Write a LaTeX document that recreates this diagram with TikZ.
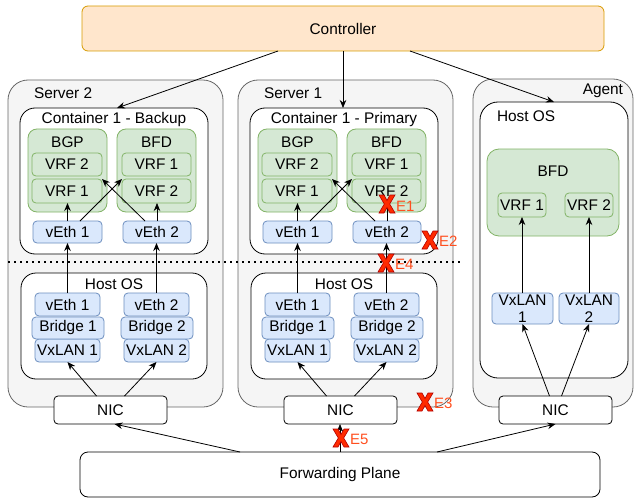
\documentclass[tikz,border=0pt]{standalone}
\usepackage{fontspec}
\setmainfont{Liberation Sans}
\usetikzlibrary{arrows.meta}

\definecolor{srvfill}{HTML}{F5F5F5}
\definecolor{srvline}{HTML}{666666}
\definecolor{grnfill}{HTML}{D5E8D4}
\definecolor{grnline}{HTML}{82B366}
\definecolor{blufill}{HTML}{DAE8FC}
\definecolor{bluline}{HTML}{6C8EBF}
\definecolor{ctlfill}{HTML}{FFE6CC}
\definecolor{ctlline}{HTML}{D79B00}
\definecolor{markfill}{HTML}{FF2A00}
\definecolor{markline}{HTML}{B20000}
\definecolor{marktext}{HTML}{FF4F1F}

\begin{document}
\begin{tikzpicture}[x=1pt,y=-1pt,
  font=\fontsize{15.4}{17}\selectfont,
  every node/.style={inner sep=0pt, outer sep=0pt},
  sz/.style 2 args={minimum width=#1pt, minimum height=#2pt},
  shell/.style={draw=srvline, fill=srvfill, rounded corners=20pt, line width=0.8pt},
  frame/.style={draw=black, fill=white, rounded corners=15pt, line width=0.8pt},
  proc/.style={draw=grnline, fill=grnfill, rounded corners=9pt, line width=0.8pt},
  vrf/.style={draw=grnline, fill=grnfill, rounded corners=4pt, line width=0.8pt},
  iface/.style={draw=bluline, fill=blufill, rounded corners=4pt, line width=0.8pt},
  nic/.style={draw=black, fill=white, rounded corners=4pt, line width=0.8pt},
  link/.style={draw, line width=0.8pt, -{Stealth[length=8pt,width=6.5pt]}},
  dotline/.style={draw, line width=1.8pt, dash pattern=on 1.8pt off 4.2pt},
  errlbl/.style={anchor=west, text=marktext, font=\fontsize{15}{16}\selectfont},
  xmark/.pic={
    \filldraw[fill=markfill, draw=markline, line width=0.6pt]
      (-8,-9) -- (-3,-9) -- (0,-3.5) -- (3,-9) -- (8,-9) -- (2.7,0) --
      (8,9) -- (3,9) -- (0,3.5) -- (-3,9) -- (-8,9) -- (-2.7,0) -- cycle;
  }]
\useasboundingbox (0,0) rectangle (634,500);

% controller and forwarding plane
\node[draw=ctlline, fill=ctlfill, rounded corners=6pt, line width=0.8pt, sz={522}{45}]
  (ctl) at (343,28.5) {Controller};
\node[nic, rounded corners=8pt, sz={520}{45}] (fp) at (340,474.5) {Forwarding Plane};

% the two servers, each with one container over its host OS
\foreach \p/\dx/\sname/\cname in {b/0/Server 2/Backup, p/230/Server 1/Primary}{
\begin{scope}[xshift=\dx pt]
  \node[shell, sz={215}{327}] (\p-srv) at (115.5,243.5) {};
  \node[anchor=west] (\p-srvlbl) at (34,93) {\sname};
  % container
  \node[frame, sz={188}{146}] (\p-cont) at (114,181) {};
  \node (\p-contlbl) at (114,120) {Container 1 - \cname};
  \node[proc, sz={79}{83}] (\p-bgp) at (67.5,170.5) {};
  \node (\p-bgplbl) at (67.5,142) {BGP};
  \node[proc, sz={79}{83}] (\p-bfd) at (156.5,170.5) {};
  \node (\p-bfdlbl) at (156.5,142) {BFD};
  \node[vrf, sz={70}{23}] (\p-bgpv2) at (67,164.5) {VRF 2};
  \node[vrf, sz={70}{24}] (\p-bgpv1) at (67,191) {VRF 1};
  \node[vrf, sz={69}{23}] (\p-bfdv1) at (156.5,164.5) {VRF 1};
  \node[vrf, sz={69}{24}] (\p-bfdv2) at (156.5,191) {VRF 2};
  \node[iface, sz={69}{22}] (\p-cveth1) at (67.5,232) {vEth 1};
  \node[iface, sz={68}{22}] (\p-cveth2) at (157,232) {vEth 2};
  % host OS
  \node[frame, sz={186}{106}] (\p-host) at (114,326) {};
  \node (\p-hostlbl) at (114,284) {Host OS};
  \node[iface, sz={65}{23}] (\p-hveth1) at (67.5,304.5) {vEth 1};
  \node[iface, sz={65}{23}] (\p-vx1) at (67.5,350.5) {VxLAN 1};
  \node[iface, sz={72}{22}] (\p-br1) at (68,328) {Bridge 1};
  \node[iface, sz={65}{23}] (\p-hveth2) at (156.5,304.5) {vEth 2};
  \node[iface, sz={65}{23}] (\p-vx2) at (156.5,350.5) {VxLAN 2};
  \node[iface, sz={72}{22}] (\p-br2) at (157,328) {Bridge 2};
  \node[nic, sz={113}{28}] (\p-nic) at (110.5,410) {NIC};
  % links inside the server
  \draw[link] (\p-cveth1.north) -- (\p-cveth1.north |- \p-bgpv1.south);
  \draw[link] ([xshift=12.5pt]\p-cveth1.north) -- (\p-bfdv2.north west);
  \draw[link] ([xshift=-12pt]\p-cveth2.north) -- (\p-bgpv1.north east);
  \draw[link] (\p-cveth2.north) -- (\p-cveth2.north |- \p-bfdv2.south);
  \draw[link] (\p-hveth1.north) -- (\p-hveth1.north |- \p-cveth1.south);
  \draw[link] (\p-hveth2.north) -- (\p-hveth2.north |- \p-cveth2.south);
  \draw[link] ([xshift=-14pt]\p-nic.north) -- (\p-vx1.south);
  \draw[link] ([xshift=14pt]\p-nic.north) -- (\p-vx2.south);
\end{scope}}

% agent
\node[shell, sz={160}{328}] (ag) at (553,243) {};
\node[anchor=east] (aglbl) at (623,91) {Agent};
\node[frame, rounded corners=18pt, sz={148}{276}] (aghost) at (554,240) {};
\node[anchor=west] (aghostlbl) at (497,116) {Host OS};
\node[proc, rounded corners=12pt, sz={132}{87}] (agbfd) at (553,192.5) {};
\node (agbfdlbl) at (553,171) {BFD};
\node[vrf, sz={48}{24}] (agv1) at (522,205) {VRF 1};
\node[vrf, sz={48}{24}] (agv2) at (589,205) {VRF 2};
\node[iface, sz={61}{31}, align=center] (agvx1) at (522.5,308.5) {VxLAN\\1};
\node[iface, sz={60}{31}, align=center] (agvx2) at (589,308.5) {VxLAN\\2};
\node[nic, sz={113}{28}] (agnic) at (555.5,410) {NIC};
\draw[link] (agvx1.north -| agv1.south) -- (agv1.south);
\draw[link] (agvx2.north -| agv2.south) -- (agv2.south);
\draw[link] ([xshift=-6pt]agnic.north) -- (agvx1.south);
\draw[link] ([xshift=6pt]agnic.north) -- (agvx2.south);

% controller links
\draw[link] ([xshift=-65pt]ctl.south) -- ([xshift=3pt]b-cont.north);
\draw[link] (ctl.south) -- (ctl.south |- p-cont.north);
\draw[link] ([xshift=67pt]ctl.south) -- (aghost.north);

% forwarding plane links
\draw[link] ([xshift=-100pt]fp.north) -- ([xshift=4pt]b-nic.south);
\draw[link] (fp.north) -- (fp.north |- p-nic.south);
\draw[link] ([xshift=97pt]fp.north) -- (agnic.south);

% container / host boundary
\coordinate (dotL) at (8,262);
\coordinate (dotR) at (460,262);
\draw[dotline] (dotL) -- (dotR);

% failure points
\pic at (387,204) {xmark};
\node[errlbl] (e1) at (396,206) {E1};
\pic at (430,240) {xmark};
\node[errlbl] (e2) at (439,241) {E2};
\pic at (425,402) {xmark};
\node[errlbl] (e3) at (434,403) {E3};
\pic at (386,263) {xmark};
\node[errlbl] (e4) at (395,264) {E4};
\pic at (341,438) {xmark};
\node[errlbl] (e5) at (350,439) {E5};
\end{tikzpicture}
\end{document}
